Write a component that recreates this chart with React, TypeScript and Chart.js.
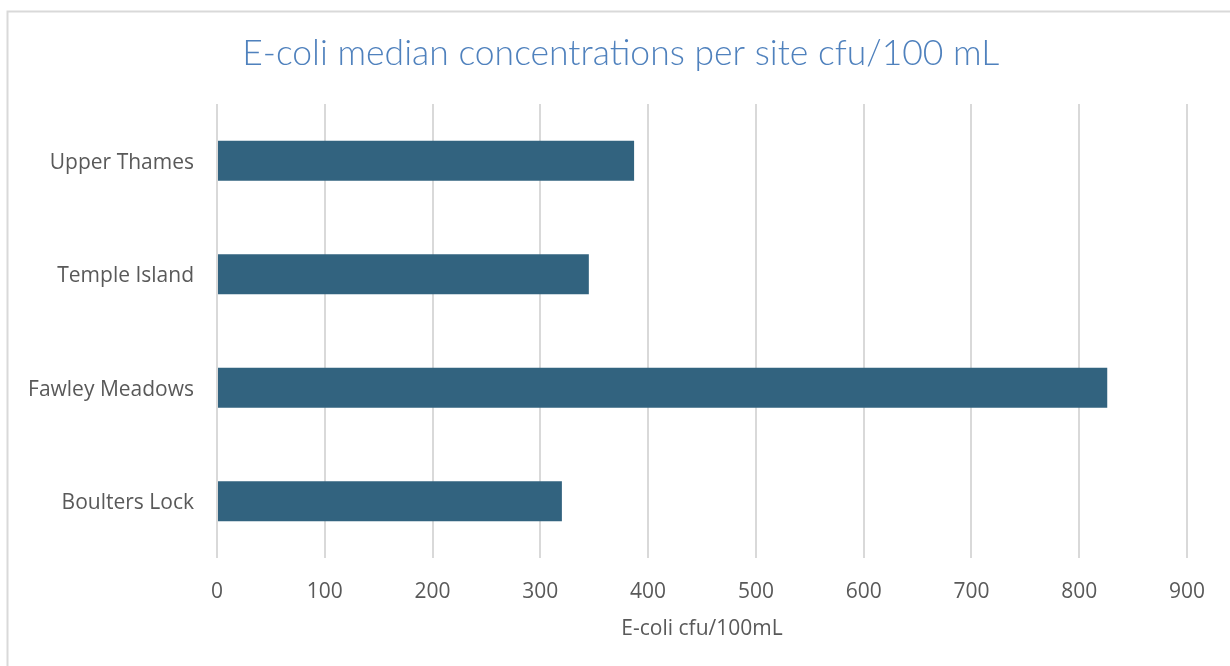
import { useEffect, useRef } from "react";
import { Chart, registerables } from "chart.js";

Chart.register(...registerables);

// Sites, top to bottom
const sites = ["Upper Thames", "Temple Island", "Fawley Meadows", "Boulters Lock"];
// Median E-coli concentration per site (cfu/100 mL)
const medians = [387, 345, 826, 320];
// Value axis range
const axisMin = 0;
const axisMax = 900;
const axisStep = 100;

const chartTitle = "E-coli median concentrations per site cfu/100 mL";
const valueAxisTitle = "E-coli cfu/100mL";

const labelFont = "'Open Sans', 'Noto Sans', sans-serif";
const frameLeft = 7.5;
const frameTop = 11.5;

// Thin frame around the chart, plus the title centred on that frame
const framePlugin = {
  id: "frame",
  beforeDraw(chart: any) {
    const { ctx, width, height } = chart;
    ctx.save();
    ctx.fillStyle = "#ffffff";
    ctx.fillRect(0, 0, width, height);
    ctx.strokeStyle = "#d9d9d9";
    ctx.lineWidth = 2;
    ctx.beginPath();
    ctx.moveTo(frameLeft, height + 5);
    ctx.lineTo(frameLeft, frameTop);
    ctx.lineTo(width + 5, frameTop);
    ctx.stroke();

    ctx.fillStyle = "#4f81bd";
    ctx.font = "300 35.5px Lato, sans-serif";
    ctx.textAlign = "center";
    ctx.textBaseline = "alphabetic";
    ctx.fillText(chartTitle, (frameLeft + width) / 2 + 2, frameTop + 53);
    ctx.restore();
  },
};

export default function App() {
  const canvasRef = useRef<HTMLCanvasElement | null>(null);

  useEffect(() => {
    if (!canvasRef.current) return;
    const chart = new Chart(canvasRef.current, {
      type: "bar",
      data: {
        labels: sites,
        datasets: [
          {
            label: "Median",
            data: medians,
            backgroundColor: "#32637f",
            borderWidth: 0,
            barPercentage: 0.352,
            categoryPercentage: 1,
          },
        ],
      },
      options: {
        indexAxis: "y",
        responsive: false,
        animation: false,
        layout: { padding: { left: 0, right: 43, top: 104, bottom: 20 } },
        plugins: {
          legend: { display: false },
          tooltip: { enabled: false },
          title: { display: false },
        },
        scales: {
          x: {
            min: axisMin,
            max: axisMax,
            border: { display: false },
            grid: { color: "#d9d9d9", lineWidth: 2, drawTicks: false },
            ticks: {
              stepSize: axisStep,
              color: "#595959",
              padding: 21,
              font: { family: labelFont, size: 21 },
            },
            title: {
              display: true,
              text: valueAxisTitle,
              color: "#595959",
              font: { family: labelFont, size: 21 },
              padding: { top: 14, bottom: 4 },
            },
            afterFit(scale: any) {
              scale.height = 88;
            },
          },
          y: {
            border: { display: false },
            grid: { display: false, drawTicks: false },
            ticks: {
              color: "#595959",
              padding: 23,
              labelOffset: 2,
              font: { family: labelFont, size: 21 },
            },
            afterFit(scale: any) {
              scale.width = 217;
            },
          },
        },
      },
      plugins: [framePlugin],
    });
    return () => chart.destroy();
  }, []);

  return (
    <div style={{ position: "fixed", left: 0, top: 0, width: 1230, height: 666, background: "#fff" }}>
      <canvas ref={canvasRef} width={1230} height={666} style={{ display: "block" }} />
    </div>
  );
}
